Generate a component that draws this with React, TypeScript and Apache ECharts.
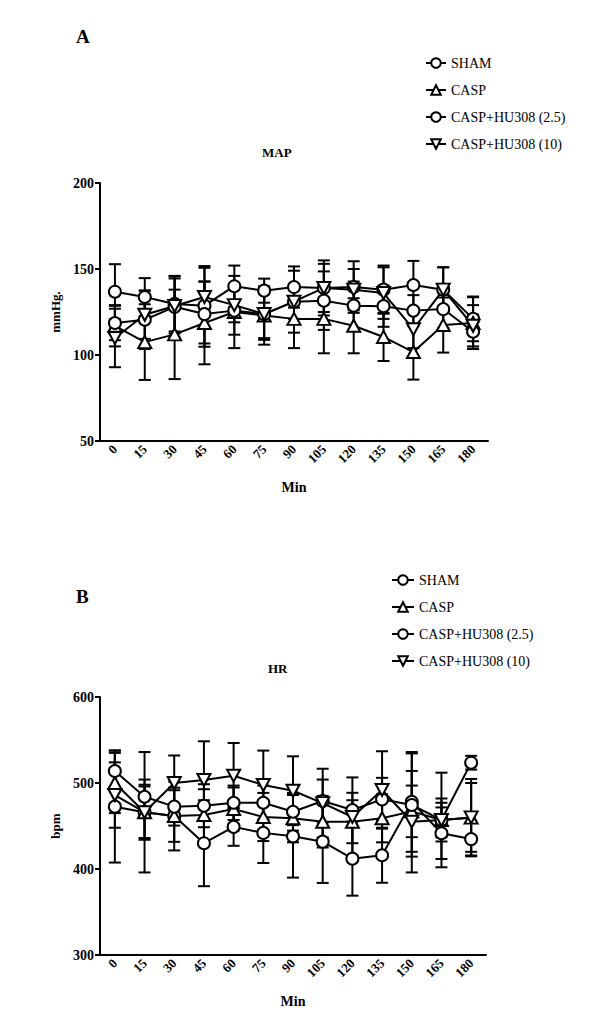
import React, { useRef, useEffect } from 'react';
import * as echarts from 'echarts';

// time points (min)
const minutes = ['0', '15', '30', '45', '60', '75', '90', '105', '120', '135', '150', '165', '180'];
const groups = ['SHAM', 'CASP', 'CASP+HU308 (2.5)', 'CASP+HU308 (10)'];

// MAP (mmHg.) means and SD
const mapSham = [136.8, 133.7, 129.7, 128.7, 140, 137.4, 139.5, 139, 139.5, 138, 140.7, 138, 121];
const mapShamSd = [16, 11, 16, 22, 12, 7, 12, 16, 15, 14, 14, 13, 13];
const mapCasp = [117, 107.5, 112, 118.6, 125, 123, 121, 121, 117, 110.5, 101.7, 117.4, 118.6];
const mapCaspSd = [12, 22, 26, 24, 21, 17, 17, 20, 16, 14, 16, 16, 15];
const mapHu25 = [118.6, 120.5, 128, 123.8, 125.8, 123.8, 131, 131.6, 128.7, 128.4, 125.8, 126.7, 113.5];
const mapHu25Sd = [10, 17, 18, 19, 14, 14, 10, 17, 14, 12, 9, 11, 10];
const mapHu10 = [109.9, 123.4, 128.5, 133.7, 129, 123.8, 131, 139, 138, 136, 115, 138, 117];
const mapHu10Sd = [17, 14, 16, 18, 10, 15, 18, 14, 12, 15, 11, 13, 12];

// HR (bpm) means and SD
const hrSham = [472.5, 466, 461.6, 430, 449, 442, 438, 431.8, 412, 416, 478, 441.6, 434.8];
const hrShamSd = [65, 32, 40, 50, 22, 35, 48, 48, 43, 32, 58, 30, 19];
const hrCasp = [500, 466, 461.6, 462.8, 469.8, 460.5, 459, 455, 455, 459, 467, 457, 459.7];
const hrCaspSd = [35, 30, 30, 30, 25, 28, 28, 30, 25, 28, 30, 25, 45];
const hrHu25 = [514, 484, 472.5, 473.6, 477, 477, 466.6, 479, 468.6, 481, 474.4, 457, 523.6];
const hrHu25Sd = [24, 20, 22, 25, 20, 20, 22, 25, 20, 25, 60, 20, 8];
const hrHu10 = [486, 466, 500, 503.5, 508.5, 497.7, 491, 476.6, 460.5, 491.9, 455, 457, 460];
const hrHu10Sd = [38, 70, 32, 45, 38, 40, 40, 40, 46, 45, 59, 55, 40];

const FONT = 'Liberation Serif';
const downTriangle = 'path://M0,0L10,0L5,9Z';
const symbols = ['circle', 'triangle', 'circle', downTriangle];

const lineSeries = (name: string, data: number[], symbol: string, axis: number) => ({
  name,
  type: 'line' as const,
  xAxisIndex: axis,
  yAxisIndex: axis,
  data,
  symbol,
  symbolSize: symbol === 'circle' ? 12 : [13, 12],
  z: 3,
  lineStyle: { color: '#000', width: 2 },
  itemStyle: { color: '#fff', borderColor: '#000', borderWidth: 2 },
});

const errorSeries = (mean: number[], sd: number[], axis: number) => ({
  type: 'custom' as const,
  xAxisIndex: axis,
  yAxisIndex: axis,
  silent: true,
  z: 1,
  data: mean.map((m, i) => [i, m - sd[i], m + sd[i]]),
  encode: { x: 0, y: [1, 2] },
  renderItem: (_params: any, api: any) => {
    const lo = api.coord([api.value(0), api.value(1)]);
    const hi = api.coord([api.value(0), api.value(2)]);
    const w = 6;
    const style = { stroke: '#000', lineWidth: 2 };
    return {
      type: 'group',
      children: [
        { type: 'line', shape: { x1: lo[0], y1: lo[1], x2: hi[0], y2: hi[1] }, style },
        { type: 'line', shape: { x1: lo[0] - w, y1: lo[1], x2: lo[0] + w, y2: lo[1] }, style },
        { type: 'line', shape: { x1: hi[0] - w, y1: hi[1], x2: hi[0] + w, y2: hi[1] }, style },
      ],
    };
  },
});

const xAxisFor = (grid: number) => ({
  type: 'category' as const,
  gridIndex: grid,
  data: minutes,
  boundaryGap: true,
  name: 'Min',
  nameLocation: 'middle' as const,
  nameGap: 39,
  nameTextStyle: { fontFamily: FONT, fontWeight: 'bold' as const, fontSize: 14, color: '#000' },
  axisLine: { lineStyle: { color: '#000', width: 2 } },
  axisTick: { alignWithLabel: true, length: 5, lineStyle: { width: 2 } },
  axisLabel: { rotate: 45, margin: 6, fontFamily: FONT, fontWeight: 'bold' as const, fontSize: 13, color: '#000' },
  splitLine: { show: false },
});

const yAxisFor = (grid: number, name: string, min: number, max: number, interval: number) => ({
  type: 'value' as const,
  gridIndex: grid,
  min,
  max,
  interval,
  name,
  nameLocation: 'middle' as const,
  nameGap: 31,
  nameTextStyle: { fontFamily: FONT, fontWeight: 'bold' as const, fontSize: 13, color: '#000' },
  axisLine: { show: true, lineStyle: { color: '#000', width: 2 } },
  axisTick: { show: true, length: 5, lineStyle: { width: 2 } },
  axisLabel: { margin: 6, fontFamily: FONT, fontWeight: 'bold' as const, fontSize: 14, color: '#000' },
  splitLine: { show: false },
});

const legendFor = (left: number, top: number, itemWidth: number) => ({
  orient: 'vertical' as const,
  left,
  top,
  itemWidth,
  itemHeight: 12,
  itemGap: 13,
  data: groups,
  textStyle: { fontFamily: FONT, fontSize: 14, color: '#000' },
  selectedMode: false,
});

const titleText = (text: string, left: number, top: number, size: number) => ({
  text,
  left,
  top,
  padding: 0,
  textStyle: { fontFamily: FONT, fontWeight: 'bold' as const, fontSize: size, color: '#000' },
});

const App: React.FC = () => {
  const chartRef = useRef<HTMLDivElement>(null);

  useEffect(() => {
    if (!chartRef.current) return;
    const chart = echarts.init(chartRef.current, null, { renderer: 'svg' });

    const mapMeans = [mapSham, mapCasp, mapHu25, mapHu10];
    const mapSds = [mapShamSd, mapCaspSd, mapHu25Sd, mapHu10Sd];
    const hrMeans = [hrSham, hrCasp, hrHu25, hrHu10];
    const hrSds = [hrShamSd, hrCaspSd, hrHu25Sd, hrHu10Sd];

    const option: echarts.EChartsOption = {
      animation: false,
      backgroundColor: '#fff',
      title: [
        titleText('A', 76, 27, 19),
        titleText('MAP', 262, 146, 13),
        titleText('B', 76, 587, 19),
        titleText('HR', 268, 662, 13),
      ],
      legend: [legendFor(420, 51, 20), legendFor(386, 568, 22)],
      grid: [
        { left: 100, top: 183, width: 388, height: 258 },
        { left: 100, top: 697, width: 386, height: 258 },
      ],
      xAxis: [xAxisFor(0), xAxisFor(1)],
      yAxis: [yAxisFor(0, 'mmHg.', 50, 200, 50), yAxisFor(1, 'bpm', 300, 600, 100)],
      series: [
        ...mapMeans.map((m, i) => errorSeries(m, mapSds[i], 0)),
        ...hrMeans.map((m, i) => errorSeries(m, hrSds[i], 1)),
        ...mapMeans.map((m, i) => lineSeries(groups[i], m, symbols[i], 0)),
        ...hrMeans.map((m, i) => lineSeries(groups[i], m, symbols[i], 1)),
      ] as any,
    };

    chart.setOption(option);
    return () => {
      chart.dispose();
    };
  }, []);

  return (
    <div
      ref={chartRef}
      style={{ position: 'absolute', left: 0, top: 0, width: 600, height: 1034 }}
    />
  );
};

export default App;
